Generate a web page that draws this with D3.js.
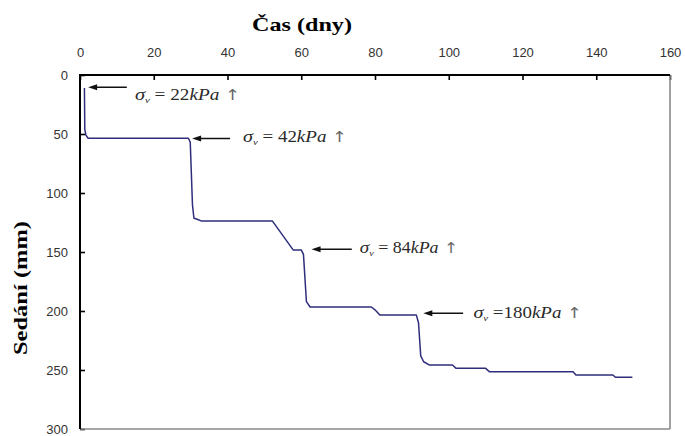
<!DOCTYPE html>
<html><head><meta charset="utf-8">
<script src="https://cdn.jsdelivr.net/npm/d3@7"></script>
<style>body{margin:0;background:#fff;}svg{display:block;}</style>
</head><body>
<svg id="c" width="685" height="436"></svg>
<script>
// ---- data ----
const days = [1.2, 1.3, 1.6, 2.2, 29.4, 29.9, 30.5, 30.9, 31.6, 33.0, 52.2, 57.8, 60.0, 60.6, 61.4, 62.4, 79.0, 80.0, 81.3, 91.2, 91.8, 92.4, 93.2, 94.8, 101.0, 102.0, 110.0, 111.0, 133.7, 134.5, 144.5, 145.2, 149.8];
const settlement = [11, 46, 51, 53.6, 53.6, 57, 110, 121.4, 122, 123.8, 123.8, 148.2, 148.2, 152, 192, 196.6, 196.6, 199, 203.3, 203.3, 210, 238, 243, 245.8, 245.8, 248.6, 248.6, 251.4, 251.4, 254.2, 254.2, 256.2, 256.2];
const xTicks = [0, 20, 40, 60, 80, 100, 120, 140, 160];
const yTicks = [0, 50, 100, 150, 200, 250, 300];
const xTitle = "Čas (dny)";
const yTitle = "Sedání (mm)";
// load-step annotations (data units: days, mm)
const loadValues = ["= 22", "= 42", "= 84", "=180"];
const arrowTipDay = [2.2, 30.4, 62.8, 93.1];
const arrowTailDay = [12.7, 40.7, 73.7, 103.9];
const arrowMm = [10.4, 53.8, 147.7, 201.9];
const labelStartDay = [14.9, 44.2, 75.9, 106.7];
const labelEndDay = [43.4, 72.4, 102.5, 136.1];
const labelMm = [17.0, 52.5, 146.9, 201.4];

// ---- chart ----
const SERIF = "'Liberation Serif', 'Times New Roman', serif";
const SANS = "'Liberation Sans', Arial, sans-serif";
const svg = d3.select("#c");
const x = d3.scaleLinear().domain([0, 160]).range([80, 670]);
const y = d3.scaleLinear().domain([0, 300]).range([75, 429]);

// top axis
const gx = svg.append("g").attr("transform", `translate(0,${y(0)})`)
  .call(d3.axisTop(x).tickValues(xTicks).tickSizeInner(-5).tickSizeOuter(0).tickPadding(18));
gx.select(".domain").remove();
gx.selectAll(".tick line").attr("stroke", "#000").attr("stroke-width", 1.6);
gx.selectAll(".tick text").style("font-family", SANS).style("font-size", "13px").attr("fill", "#333");

// left axis
const gy = svg.append("g").attr("transform", `translate(${x(0)},0)`)
  .call(d3.axisLeft(y).tickValues(yTicks).tickSizeInner(-5).tickSizeOuter(0).tickPadding(12));
gy.select(".domain").remove();
gy.selectAll(".tick line").attr("stroke", "#000").attr("stroke-width", 1.6);
gy.selectAll(".tick text").style("font-family", SANS).style("font-size", "13px").attr("fill", "#333");

// frame
svg.append("line").attr("x1", x(160)).attr("x2", x(160)).attr("y1", y(0)).attr("y2", y(300)).attr("stroke", "#8a8a8a").attr("stroke-width", 1.6);
svg.append("line").attr("x1", x(0)).attr("x2", x(160)).attr("y1", y(300)).attr("y2", y(300)).attr("stroke", "#8a8a8a").attr("stroke-width", 1.6);
svg.append("line").attr("x1", x(0)).attr("x2", x(160)).attr("y1", y(0)).attr("y2", y(0)).attr("stroke", "#000").attr("stroke-width", 2);
svg.append("line").attr("x1", x(0)).attr("x2", x(0)).attr("y1", y(0) - 1).attr("y2", y(300)).attr("stroke", "#000").attr("stroke-width", 2);

// titles
svg.append("text").attr("x", 302).attr("y", 31).attr("text-anchor", "middle")
  .style("font-family", SERIF).style("font-weight", "bold").style("font-size", "19px")
  .attr("textLength", 100).attr("lengthAdjust", "spacingAndGlyphs").text(xTitle);
svg.append("text").attr("transform", "translate(27,288) rotate(-90)").attr("text-anchor", "middle")
  .style("font-family", SERIF).style("font-weight", "bold").style("font-size", "19px")
  .attr("textLength", 134).attr("lengthAdjust", "spacingAndGlyphs").text(yTitle);

// data line
const pts = days.map((d, i) => [d, settlement[i]]);
svg.append("path").datum(pts)
  .attr("d", d3.line().x(d => x(d[0])).y(d => y(d[1])))
  .attr("fill", "none").attr("stroke", "#2e2e7c").attr("stroke-width", 1.5).attr("stroke-linejoin", "round");

// annotations
loadValues.forEach((v, i) => {
  const tipX = x(arrowTipDay[i]), tailX = x(arrowTailDay[i]), ay = y(arrowMm[i]);
  svg.append("line").attr("x1", tipX + 6).attr("x2", tailX).attr("y1", ay).attr("y2", ay)
    .attr("stroke", "#111").attr("stroke-width", 1.4);
  svg.append("path").attr("d", `M${tipX},${ay}L${tipX + 9},${ay - 3}L${tipX + 9},${ay + 3}Z`).attr("fill", "#111");
  const sx = x(labelStartDay[i]), ex = x(labelEndDay[i]);
  const t = svg.append("text").attr("x", sx).attr("y", y(labelMm[i]) + 5)
    .style("font-family", SERIF).style("font-size", "16px").attr("fill", "#2a2a2a")
    .attr("textLength", ex - sx).attr("lengthAdjust", "spacingAndGlyphs");
  t.append("tspan").style("font-style", "italic").style("font-size", "17px").text("σ");
  t.append("tspan").style("font-style", "italic").style("font-size", "9px").attr("dy", 3).text("v");
  t.append("tspan").attr("dy", -3).text(" " + v);
  t.append("tspan").style("font-style", "italic").text("kPa");
  t.append("tspan").attr("fill", "#666").style("font-family", "'DejaVu Sans', sans-serif").style("font-size", "15px").text(" ↑");
});
</script>
</body></html>
